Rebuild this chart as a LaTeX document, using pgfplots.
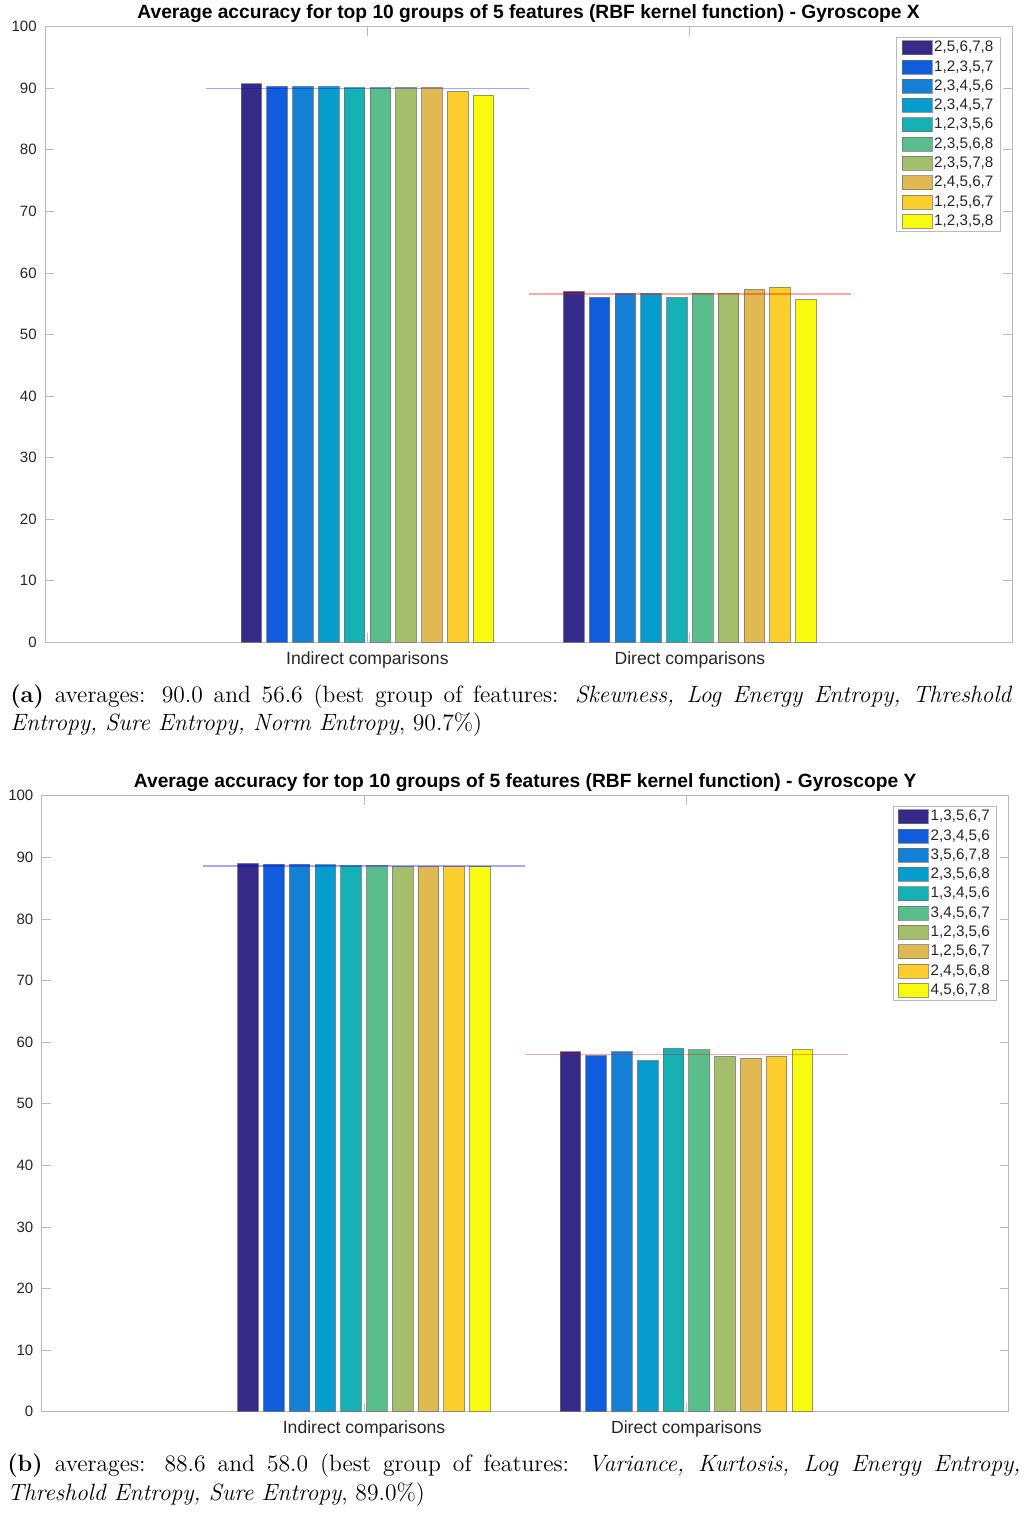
\documentclass[border=0pt]{standalone}
\usepackage{fontspec}
\usepackage{pgfplots}
\pgfplotsset{compat=1.18}
\newfontfamily\chartfont{Liberation Sans}
\definecolor{c1}{HTML}{352A87}
\definecolor{c2}{HTML}{0F5CDD}
\definecolor{c3}{HTML}{1481D6}
\definecolor{c4}{HTML}{069DCE}
\definecolor{c5}{HTML}{15B1B4}
\definecolor{c6}{HTML}{59BD8C}
\definecolor{c7}{HTML}{A5BE6B}
\definecolor{c8}{HTML}{E1B952}
\definecolor{c9}{HTML}{FCCE2E}
\definecolor{c10}{HTML}{F9FB0E}
\definecolor{framegray}{HTML}{BABABA}
\definecolor{labgray}{HTML}{262626}
\definecolor{edgegray}{HTML}{6E6E6E}
\pgfplotsset{
  myaxis/.style={
    scale only axis, anchor=south west,
    xmin=0, xmax=3, ymin=0, ymax=100,
    xtick={1,2}, xticklabels={Indirect comparisons, Direct comparisons},
    ytick={0,10,...,100},
    tick align=inside, major tick length=4.5pt,
    axis line style={draw=framegray, line width=0.5pt},
    tick style={draw=framegray, line width=0.4pt},
    ticklabel style={text=labgray},
    yticklabel style={font=\chartfont\fontsize{7.5}{9}\selectfont, inner sep=0pt, xshift=-4pt},
    xticklabel style={font=\chartfont\fontsize{8.8}{10}\selectfont, inner sep=0pt, yshift=-4.3pt},
    /pgf/number format/assume math mode=true,
    every axis title/.style={font=\chartfont\bfseries\fontsize{9.6}{11}\selectfont, at={(0.5,1)}, anchor=base, inner sep=0pt, yshift=4.2pt},
    legend style={at={(1,1)}, anchor=north east, xshift=-5.7pt, yshift=-5.15pt,
      draw=framegray, line width=0.5pt, font=\chartfont\fontsize{7.6}{9}\selectfont,
      cells={anchor=west}, inner xsep=2.5pt, inner ysep=1pt, row sep=1.65pt,
      nodes={inner ysep=0.5pt, inner xsep=1pt, text height=5.6pt, text depth=1.4pt, text=labgray}},
    legend image code/.code={\draw[#1, draw=edgegray, line width=0.3pt] (0pt,-3.5pt) rectangle (15pt,3.5pt);},
  },
  mybar/.style={ybar, bar width=0.064, bar shift=0pt, fill=#1, draw=edgegray, draw opacity=0.7, line width=0.5pt},
  avgline/.style={sharp plot, no marks, draw=#1, draw opacity=0.35, line width=0.7pt, forget plot},
}
\begin{document}
\begin{tikzpicture}
\useasboundingbox (0,0) rectangle (512pt,-758pt);
% ---------- (a) Gyroscope X ----------
\begin{axis}[myaxis, at={(22.5pt,-321.15pt)}, width=483.65pt, height=307.8pt,
  title={Average accuracy for top 10 groups of 5 features (RBF kernel function) - Gyroscope X}]
\addplot[mybar=c1]  coordinates {(0.64,90.7) (1.64,57.0)};  \addlegendentry{2,5,6,7,8}
\addplot[mybar=c2]  coordinates {(0.72,90.3) (1.72,56.05)}; \addlegendentry{1,2,3,5,7}
\addplot[mybar=c3]  coordinates {(0.80,90.3) (1.80,56.7)};  \addlegendentry{2,3,4,5,6}
\addplot[mybar=c4]  coordinates {(0.88,90.3) (1.88,56.7)};  \addlegendentry{2,3,4,5,7}
\addplot[mybar=c5]  coordinates {(0.96,90.1) (1.96,56.0)};  \addlegendentry{1,2,3,5,6}
\addplot[mybar=c6]  coordinates {(1.04,90.1) (2.04,56.7)};  \addlegendentry{2,3,5,6,8}
\addplot[mybar=c7]  coordinates {(1.12,90.1) (2.12,56.7)};  \addlegendentry{2,3,5,7,8}
\addplot[mybar=c8]  coordinates {(1.20,90.1) (2.20,57.35)}; \addlegendentry{2,4,5,6,7}
\addplot[mybar=c9]  coordinates {(1.28,89.5) (2.28,57.7)};  \addlegendentry{1,2,5,6,7}
\addplot[mybar=c10] coordinates {(1.36,88.9) (2.36,55.7)};  \addlegendentry{1,2,3,5,8}
\addplot[avgline=blue] coordinates {(0.5,90.0) (1.5,90.0)};
\addplot[avgline=red]  coordinates {(1.5,56.6) (2.5,56.6)};
\end{axis}
% ---------- (b) Gyroscope Y ----------
\begin{axis}[myaxis, at={(20.85pt,-705.85pt)}, width=483.5pt, height=308pt,
  title={Average accuracy for top 10 groups of 5 features (RBF kernel function) - Gyroscope Y}]
\addplot[mybar=c1]  coordinates {(0.64,89.0) (1.64,58.4)};  \addlegendentry{1,3,5,6,7}
\addplot[mybar=c2]  coordinates {(0.72,88.9) (1.72,57.8)};  \addlegendentry{2,3,4,5,6}
\addplot[mybar=c3]  coordinates {(0.80,88.9) (1.80,58.4)};  \addlegendentry{3,5,6,7,8}
\addplot[mybar=c4]  coordinates {(0.88,88.8) (1.88,57.0)};  \addlegendentry{2,3,5,6,8}
\addplot[mybar=c5]  coordinates {(0.96,88.6) (1.96,59.0)};  \addlegendentry{1,3,4,5,6}
\addplot[mybar=c6]  coordinates {(1.04,88.6) (2.04,58.75)}; \addlegendentry{3,4,5,6,7}
\addplot[mybar=c7]  coordinates {(1.12,88.45) (2.12,57.7)}; \addlegendentry{1,2,3,5,6}
\addplot[mybar=c8]  coordinates {(1.20,88.45) (2.20,57.35)};\addlegendentry{1,2,5,6,7}
\addplot[mybar=c9]  coordinates {(1.28,88.45) (2.28,57.7)}; \addlegendentry{2,4,5,6,8}
\addplot[mybar=c10] coordinates {(1.36,88.45) (2.36,58.75)};\addlegendentry{4,5,6,7,8}
\addplot[avgline=blue] coordinates {(0.5,88.6) (1.5,88.6)};
\addplot[avgline=red]  coordinates {(1.5,58.0) (2.5,58.0)};
\end{axis}
% ---------- captions ----------
\node[anchor=base west, inner sep=0pt] at (5pt,-351pt) {\fontsize{11.8}{14}\selectfont\makebox[501pt][s]{\textbf{(a)} averages: 90.0 and 56.6 (best group of features: \textit{Skewness, Log Energy Entropy, Threshold}}};
\node[anchor=base west, inner sep=0pt] at (5pt,-365pt) {\fontsize{11.8}{14}\selectfont \textit{Entropy, Sure Entropy, Norm Entropy}, 90.7\%)};
\node[anchor=base west, inner sep=0pt] at (3.5pt,-735.85pt) {\fontsize{11.8}{14}\selectfont\makebox[506.5pt][s]{\textbf{(b)} averages: 88.6 and 58.0 (best group of features: \textit{Variance, Kurtosis, Log Energy Entropy,}}};
\node[anchor=base west, inner sep=0pt] at (3.5pt,-750pt) {\fontsize{11.8}{14}\selectfont \textit{Threshold Entropy, Sure Entropy}, 89.0\%)};
\end{tikzpicture}
\end{document}
